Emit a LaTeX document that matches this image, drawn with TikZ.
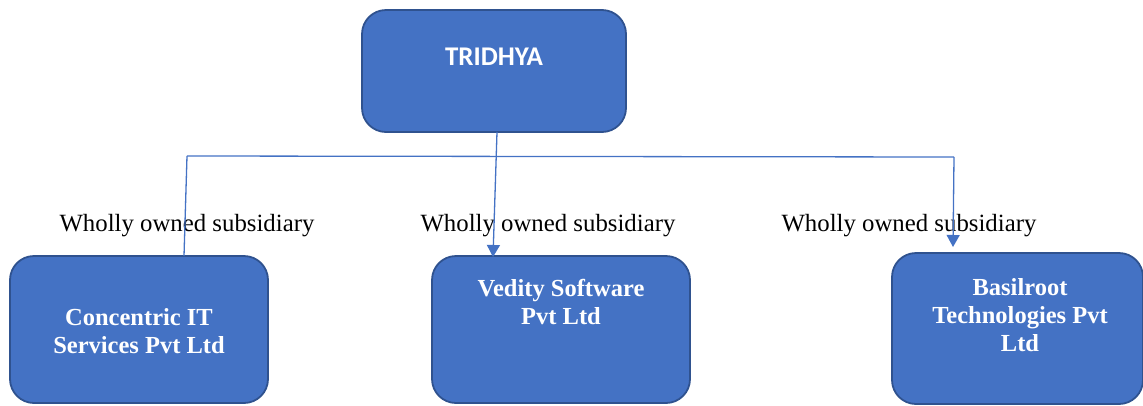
\documentclass[tikz,border=0pt]{standalone}
\usepackage{fontspec}
\setmainfont{Liberation Serif}
\newfontfamily\calfont{Carlito}
\usetikzlibrary{arrows.meta}
\definecolor{boxfill}{HTML}{4472C4}
\definecolor{boxedge}{HTML}{2F528F}
\definecolor{linecol}{HTML}{4472C4}
\begin{document}
\begin{tikzpicture}[x=1pt,y=-1pt,
  orgbox/.style={draw=boxedge,line width=1.8pt,fill=boxfill,rounded corners=24pt,inner sep=0pt},
  boxtext/.style={text=white,font=\fontsize{24.5}{28}\selectfont\bfseries,align=center,inner sep=0pt},
  reltext/.style={font=\fontsize{24.8}{28}\selectfont,inner sep=0pt},
  conn/.style={draw=linecol,line width=1.3pt},
  arr/.style={conn,-{Triangle[length=12pt,width=13pt]}}]
\useasboundingbox (0,0) rectangle (1143,405);
\begin{scope}
\clip (0,0) rectangle (1143,405);
\node[orgbox,minimum width=264pt,minimum height=122pt] (t) at (494,71) {};
\node[orgbox,minimum width=258pt,minimum height=147pt] (c) at (139,329.5) {};
\node[orgbox,minimum width=258pt,minimum height=147pt] (v) at (561,329.5) {};
\node[orgbox,minimum width=251pt,minimum height=151pt] (b) at (1017.5,328.5) {};
\end{scope}
\node[text=white,font=\fontsize{27}{30}\calfont\bfseries,inner sep=0pt] (tt) at (494,57) {TRIDHYA};
\node[boxtext] (ct) at (139,331) {Concentric IT\\Services Pvt Ltd};
\node[boxtext] (vt) at (561,302) {Vedity Software\\Pvt Ltd};
\node[boxtext] (bt) at (1020,315) {Basilroot\\Technologies Pvt\\Ltd};
\node[reltext] (l1) at (187,226) {Wholly owned subsidiary};
\node[reltext] (l2) at (548,226) {Wholly owned subsidiary};
\node[reltext] (l3) at (909,226) {Wholly owned subsidiary};
\coordinate (j1) at (187,156);
\coordinate (j2) at (954,157);
\coordinate (cin) at (184,256);
\coordinate (tout) at (497,132);
\coordinate (vin) at (493,257);
\coordinate (bin) at (953,247);
\draw[conn] (j1) -- (j2);
\draw[conn] (j1) -- (cin);
\draw[arr] (tout) -- (vin);
\draw[arr] (j2) -- (bin);
\end{tikzpicture}
\end{document}
